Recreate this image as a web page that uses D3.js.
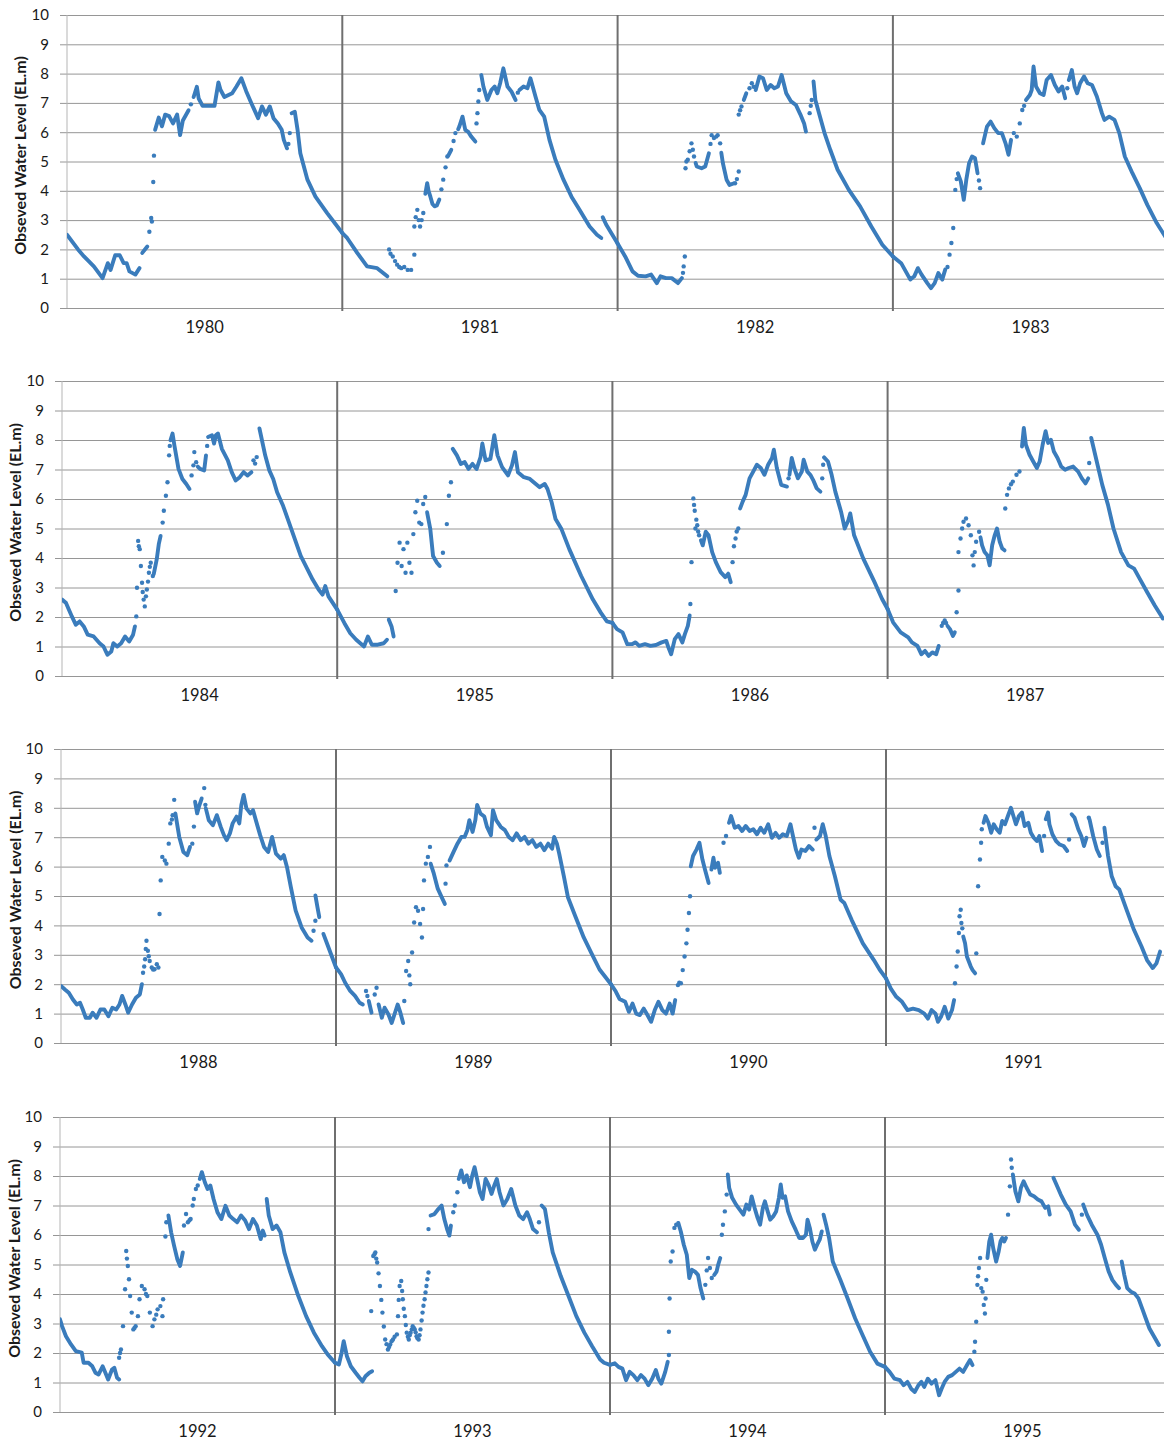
<!DOCTYPE html>
<html><head><meta charset="utf-8">
<script src="https://cdn.jsdelivr.net/npm/d3@7"></script>
<style>body{margin:0;background:#fff}svg{display:block}</style>
</head><body>
<svg id="c" width="1164" height="1443"></svg>
<script>
// ---------- DATA (month-of-year, water level EL.m); "L" = continuous run, "D" = isolated dots ----------
const yTickValues = [0,1,2,3,4,5,6,7,8,9,10];
const axisTitle = "Obseved Water Level (EL.m)";
const panelYears = [[1980,1981,1982,1983],[1984,1985,1986,1987],[1988,1989,1990,1991],[1992,1993,1994,1995]];

const wl1980 = [
 ["L",0,2.5,.48,2.0,.74,1.76,1.17,1.42,1.55,1.02,1.78,1.53,1.9,1.3,2.1,1.8,2.3,1.8,2.47,1.53,2.6,1.53,2.72,1.25,2.98,1.14,3.16,1.36],
 ["L",3.28,1.88,3.5,2.1],
 ["D",3.59,2.6,3.67,3.07,3.7,2.95,3.76,4.3,3.79,5.2],
 ["L",3.84,6.08,4.0,6.5,4.14,6.2,4.28,6.6,4.45,6.55,4.62,6.3,4.8,6.6,4.93,5.9,5.05,6.4,5.3,6.75],
 ["D",5.4,6.95],
 ["L",5.52,7.2,5.66,7.55,5.74,7.15,5.91,6.9,6.17,6.9,6.43,6.9,6.6,7.7,6.69,7.45,6.86,7.2,7.2,7.33,7.38,7.55,7.6,7.84,7.81,7.4,8.07,6.93,8.33,6.48,8.5,6.88,8.67,6.6,8.84,6.88,9.0,6.48,9.19,6.3,9.36,6.08,9.45,5.74,9.59,5.45],
 ["D",9.65,5.6,9.71,5.97],
 ["L",9.79,6.65,9.93,6.7,10.05,6.08,10.17,5.28,10.48,4.38,10.83,3.8,11.34,3.24,12,2.56]
];
const wl1981 = [
 ["L",0,2.56,.21,2.39,.65,1.88,1.08,1.42,1.52,1.36,1.96,1.08],
 ["D",2.04,2.0,2.1,1.85,2.2,1.76,2.3,1.6,2.39,1.48,2.48,1.4,2.57,1.36,2.7,1.4,2.85,1.3,3.0,1.3,3.14,1.82],
 ["D",3.14,2.78,3.2,3.1,3.27,3.35,3.33,3.0,3.39,2.78,3.46,3.0,3.53,3.24],
 ["L",3.62,3.9,3.7,4.26,3.76,4.0,3.84,3.8,3.93,3.55,4.02,3.47,4.12,3.5,4.23,3.7],
 ["D",4.32,4.05,4.4,4.38,4.5,4.8,4.58,5.17],
 ["L",4.62,5.2,4.75,5.4],
 ["D",4.85,5.7,4.93,5.97],
 ["L",5.05,6.1,5.1,6.19,5.24,6.53,5.36,6.08,5.5,6.0,5.62,5.85,5.8,5.68],
 ["D",5.85,6.3,5.89,6.65,5.93,7.05,5.97,7.44],
 ["L",6.06,7.95,6.15,7.56,6.32,7.1,6.5,7.44,6.64,7.56,6.76,7.33,6.88,7.67,7.02,8.18,7.2,7.56,7.37,7.39,7.55,7.1],
 ["D",7.65,7.35],
 ["L",7.72,7.44,7.9,7.56,8.07,7.5,8.2,7.84,8.42,7.22,8.59,6.76,8.8,6.53,9.03,5.74,9.29,5.06,9.64,4.38,9.99,3.8,10.34,3.35,10.78,2.78,11.1,2.5,11.29,2.39],
 ["L",11.35,3.1,11.5,2.85,12,2.2]
];
const wl1982 = [
 ["L",0,2.2,.33,1.76,.65,1.25,.89,1.1,1.22,1.08,1.46,1.14,1.71,.85,1.87,1.08,2.11,1.02,2.36,1.02,2.63,.85,2.8,1.02],
 ["D",2.85,1.2,2.88,1.42,2.93,1.76],
 ["D",2.96,4.77,3.0,5.0,3.06,5.06,3.14,5.35,3.22,5.62,3.28,5.4,3.33,5.17],
 ["L",3.4,4.95,3.45,4.83,3.66,4.77,3.82,4.83,3.98,5.28],
 ["D",4.05,5.6,4.1,5.9,4.2,5.8,4.3,5.85,4.36,5.9,4.47,5.62],
 ["L",4.52,5.3,4.59,4.94,4.75,4.38,4.88,4.2,5.05,4.25],
 ["D",5.12,4.26,5.2,4.4,5.28,4.66],
 ["D",5.28,6.6,5.34,6.75,5.4,6.88],
 ["L",5.5,7.1,5.61,7.33],
 ["D",5.75,7.5,5.85,7.67,5.93,7.55],
 ["L",6.02,7.44,6.18,7.9,6.34,7.84,6.5,7.44,6.67,7.61,6.83,7.5,6.99,7.56,7.15,7.95,7.35,7.33,7.56,7.05,7.77,6.93,7.97,6.6,8.13,6.3,8.21,6.02],
 ["D",8.37,6.65,8.42,6.9,8.46,7.1],
 ["L",8.54,7.73,8.62,7.1,8.78,6.65,9.02,5.97,9.27,5.4,9.59,4.72,10.08,4.03,10.57,3.47,11.06,2.78,11.54,2.16,12,1.76]
];
const wl1983 = [
 ["L",0,1.76,.36,1.53,.76,.97,.93,1.08,1.09,1.36,1.25,1.14,1.5,.85,1.66,.68,1.82,.85,1.98,1.19,2.15,.97,2.28,1.31],
 ["D",2.38,1.4,2.47,1.82,2.55,2.22,2.63,2.73],
 ["D",2.72,4.03,2.78,4.4],
 ["L",2.83,4.6,2.96,4.32,3.09,3.69,3.2,4.38,3.32,4.94,3.45,5.17,3.58,5.11,3.69,4.6],
 ["D",3.75,4.35,3.8,4.09],
 ["L",3.93,5.62,4.1,6.19,4.26,6.36,4.42,6.14,4.59,5.97,4.75,5.97,4.91,5.62,5.04,5.23,5.15,5.74],
 ["D",5.27,5.97,5.4,5.85,5.53,6.3,5.64,6.76,5.72,6.9],
 ["L",5.8,7.1,5.97,7.27,6.05,7.44,6.13,8.24,6.24,7.56,6.41,7.33,6.57,7.27,6.7,7.78,6.89,7.95,7.06,7.61,7.22,7.39,7.38,7.56,7.51,7.16],
 ["D",7.6,7.5],
 ["L",7.67,7.78,7.8,8.12,7.92,7.56,8.03,7.33,8.16,7.67,8.33,7.9,8.49,7.67,8.68,7.61,8.89,7.22,9.11,6.65,9.22,6.42,9.43,6.53,9.66,6.42,9.87,5.97,10.11,5.17,10.44,4.6,10.76,4.09,11.09,3.52,11.5,2.9,11.87,2.44,12,2.3]
];
const wl1984 = [
 ["L",0,2.59,.17,2.48,.43,2.02,.6,1.74,.77,1.85,.95,1.68,1.12,1.4,1.38,1.34,1.64,1.11,1.81,1.0,1.98,.72,2.15,.83,2.24,1.11,2.41,1.0,2.58,1.11,2.75,1.34,2.93,1.17,3.1,1.4,3.18,1.68],
 ["D",3.24,2.02,3.27,2.99,3.32,4.58,3.35,4.4,3.39,4.3,3.44,3.73,3.49,3.16,3.52,2.85,3.56,2.59,3.61,2.36,3.66,2.7,3.7,2.93,3.75,3.2,3.79,3.5,3.83,3.7,3.87,3.84,3.96,3.39],
 ["L",4.0,3.45,4.04,3.61,4.13,3.95,4.22,4.47,4.3,4.75],
 ["D",4.39,5.2,4.44,5.6,4.53,6.11,4.6,6.57,4.67,7.48,4.7,7.8],
 ["L",4.73,7.99,4.82,8.22,4.9,7.82,5.08,7.02,5.25,6.68,5.42,6.51,5.56,6.34],
 ["D",5.65,6.8,5.73,7.14,5.77,7.59,5.85,7.25],
 ["L",5.92,7.1,6.02,7.02,6.2,6.97,6.28,7.48],
 ["D",6.33,7.8],
 ["L",6.37,8.1,6.54,8.16,6.63,7.88,6.71,8.16,6.8,8.22,6.97,7.7,7.23,7.31,7.4,6.91,7.57,6.63,7.75,6.74,7.92,6.91,8.09,6.8,8.26,6.91],
 ["D",8.35,7.31,8.42,7.2,8.49,7.42],
 ["L",8.61,8.39,8.86,7.48,9.04,6.97,9.21,6.68,9.38,6.23,9.64,5.77,9.9,5.2,10.41,4.07,10.93,3.27,11.19,2.93,11.36,2.76,11.48,3.05,11.62,2.7,12,2.25]
];
const wl1985 = [
 ["L",0,2.25,.31,1.8,.57,1.45,.83,1.23,1.17,1.0,1.34,1.34,1.51,1.06,1.77,1.06,2.03,1.11,2.17,1.23],
 ["L",2.25,1.91,2.37,1.68,2.46,1.34],
 ["D",2.55,2.88,2.63,3.84,2.72,4.52,2.81,3.73,2.89,4.3,2.98,3.5,3.06,4.52,3.15,3.84,3.24,3.5,3.32,4.81,3.41,5.55,3.49,5.94,3.58,5.2,3.67,5.15,3.75,5.83,3.84,6.07],
 ["L",3.92,5.55,4.06,4.98,4.18,4.07,4.35,3.84,4.47,3.73],
 ["D",4.61,4.18,4.78,5.15,4.87,6.11,4.96,6.57],
 ["L",5.04,7.7,5.22,7.48,5.39,7.19,5.56,7.25,5.73,7.02,5.9,7.19,6.08,7.02,6.25,7.42,6.33,7.88,6.47,7.31,6.68,7.36,6.85,8.16,6.99,7.48,7.19,7.08,7.45,6.8,7.62,7.14,7.75,7.59,7.88,6.91,8.14,6.74,8.4,6.68,8.66,6.51,8.83,6.4,9.05,6.51,9.17,6.34,9.35,5.89,9.52,5.32,9.78,4.98,10.12,4.3,10.64,3.39,11.15,2.59,11.5,2.14,11.76,1.85,12,1.8]
];
const wl1986 = [
 ["L",0,1.8,.2,1.59,.44,1.48,.65,1.08,.85,1.08,1.01,1.14,1.17,1.02,1.42,1.08,1.66,1.02,1.9,1.05,2.15,1.14,2.35,1.19,2.44,.97,2.56,.74,2.72,1.25,2.88,1.42,3.05,1.14,3.16,1.42,3.29,1.7,3.37,2.05],
 ["D",3.4,2.44,3.45,3.86],
 ["D",3.53,6.02,3.56,5.8,3.59,5.6,3.62,5.0,3.66,5.3,3.7,5.11,3.74,4.9,3.78,4.77],
 ["L",3.86,4.6,3.94,4.43,4.07,4.89,4.19,4.77,4.35,4.2,4.51,3.86,4.72,3.52,4.92,3.35,5.05,3.47,5.16,3.18],
 ["D",5.24,3.86,5.3,4.4,5.37,4.66,5.42,4.9,5.49,5.0],
 ["L",5.57,5.68,5.68,5.91,5.81,6.14,5.98,6.7,6.14,6.93,6.3,7.16,6.47,7.05,6.63,6.82,6.79,7.16,6.96,7.39,7.04,7.67,7.17,7.05,7.36,6.48,7.61,6.42],
 ["D",7.68,6.7],
 ["L",7.72,6.82,7.82,7.39,7.93,7.05,8.09,6.7,8.26,6.93,8.34,7.33,8.5,6.93,8.63,6.82,8.75,6.65,8.91,6.36,9.07,6.25],
 ["D",9.15,6.7,9.19,7.16],
 ["L",9.23,7.41,9.4,7.27,9.56,6.82,9.72,6.25,9.97,5.57,10.13,5.0,10.29,5.28,10.37,5.51,10.54,4.77,10.94,3.98,11.43,3.18,11.76,2.61,12,2.27]
];
const wl1987 = [
 ["L",0,2.27,.24,1.82,.57,1.48,.9,1.31,1.06,1.14,1.3,1.02,1.47,.74,1.63,.85,1.79,.68,1.95,.8,2.12,.74,2.23,1.02],
 ["D",2.36,1.7,2.42,1.8,2.49,1.88,2.55,1.8],
 ["L",2.61,1.7,2.72,1.59,2.85,1.36,2.93,1.48],
 ["D",3.01,2.16,3.09,2.9],
 ["D",3.09,4.2,3.18,4.66,3.25,5.0,3.31,5.23,3.42,5.34,3.53,5.11,3.63,4.77,3.7,4.09,3.75,3.75,3.8,4.2,3.86,4.55,3.99,4.89],
 ["L",4.05,4.7,4.12,4.43,4.23,4.2,4.35,4.09,4.45,3.75,4.56,4.43,4.67,4.77,4.77,5.0,4.89,4.55,5.0,4.32,5.1,4.26],
 ["D",5.13,5.68,5.21,6.14,5.29,6.36,5.38,6.5,5.46,6.59,5.62,6.82,5.75,6.93],
 ["L",5.86,7.78,5.94,8.41,6.03,7.84,6.19,7.5,6.35,7.27,6.51,7.05,6.63,7.27,6.76,7.84,6.89,8.3,7.0,7.9,7.12,8.01,7.25,7.61,7.41,7.39,7.57,7.1,7.74,6.99,7.9,7.05,8.09,7.1,8.31,6.93,8.47,6.7,8.63,6.53,8.75,6.7],
 ["D",8.79,7.22],
 ["L",8.88,8.07,9.12,7.27,9.36,6.48,9.61,5.8,9.85,5.0,10.18,4.2,10.5,3.75,10.75,3.64,10.99,3.3,11.32,2.84,11.65,2.39,11.97,1.99,12,1.95]
];
const wl1988 = [
 ["L",0,1.94,.17,1.82,.34,1.71,.52,1.48,.69,1.31,.83,1.37,.95,1.14,1.08,.86,1.26,.86,1.38,1.03,1.55,.86,1.72,1.14,1.89,1.14,2.07,.91,2.24,1.2,2.41,1.14,2.55,1.31,2.67,1.6,2.81,1.31,2.93,1.03,3.1,1.31,3.27,1.54,3.44,1.65,3.53,2.0],
 ["D",3.58,2.39,3.63,2.6,3.67,2.85,3.7,3.2,3.73,3.48,3.79,3.14,3.83,2.95,3.87,2.79,3.96,2.57,4.02,2.5,4.08,2.51,4.18,2.68,4.25,2.57],
 ["D",4.3,4.39,4.35,5.53,4.42,6.33,4.53,6.21,4.6,6.1,4.7,6.78,4.77,7.47,4.84,7.6,4.87,7.75,4.94,8.27],
 ["L",4.99,7.81,5.16,7.01,5.34,6.5,5.51,6.39,5.63,6.67],
 ["D",5.73,6.78,5.8,7.36],
 ["L",5.85,8.21,5.94,7.81,6.02,8.04,6.14,8.32],
 ["D",6.25,8.67,6.3,8.1],
 ["L",6.32,7.98,6.45,7.58,6.63,7.41,6.8,7.75,6.97,7.35,7.11,7.07,7.23,6.9,7.37,7.13,7.49,7.47,7.66,7.7,7.78,7.47,7.87,8.1,7.97,8.44,8.09,7.98,8.26,7.81,8.38,7.92,8.52,7.53,8.69,7.07,8.86,6.67,9.04,6.5,9.21,7.01,9.38,6.44,9.59,6.27,9.72,6.39,9.86,5.99,10.03,5.3,10.24,4.5,10.5,3.93,10.76,3.59,10.93,3.48],
 ["D",11.02,3.82,11.1,4.16],
 ["L",11.1,5.02,11.19,4.62,11.27,4.28],
 ["L",11.45,3.71,11.62,3.36,12,2.57]
];
const wl1989 = [
 ["L",0,2.57,.22,2.34,.4,2.05,.62,1.77,.83,1.6,1.03,1.37,1.17,1.31],
 ["D",1.31,1.77,1.37,1.6],
 ["L",1.43,1.43,1.55,1.03],
 ["D",1.69,1.65,1.77,1.88],
 ["L",1.86,1.31,2.0,.86,2.12,1.2,2.29,.97,2.43,.68,2.55,.97,2.69,1.31,2.81,1.03,2.93,.68],
 ["D",2.98,1.43],
 ["D",3.06,2.45,3.15,2.79,3.2,2.3,3.24,2.0,3.32,3.08,3.41,4.1,3.49,4.62,3.58,4.5,3.67,4.05,3.75,3.59,3.8,4.56,3.84,5.53,3.92,6.1,4.01,6.33,4.1,6.67],
 ["L",4.13,6.1,4.27,5.76,4.44,5.25,4.61,4.96,4.75,4.73],
 ["D",4.78,5.42,4.82,6.04],
 ["L",4.96,6.21,5.13,6.5,5.3,6.78,5.47,7.01,5.61,7.01,5.73,7.24,5.82,7.58,5.96,7.18,6.08,7.58,6.16,8.1,6.3,7.81,6.47,7.7,6.59,7.35,6.76,7.07,6.85,7.92,6.99,7.58,7.19,7.35,7.37,7.24,7.54,7.01,7.71,6.9,7.88,7.13,8.06,6.9,8.23,7.01,8.4,6.78,8.57,6.9,8.74,6.67,8.92,6.78,9.09,6.56,9.26,6.78,9.43,6.61,9.52,7.01,9.64,6.78,9.74,6.44,9.95,5.64,10.12,4.96,10.46,4.28,10.81,3.59,11.15,3.05,11.5,2.5,12,2.0]
];
const wl1990 = [
 ["L",0,2.0,.21,1.75,.37,1.5,.62,1.4,.78,1.06,.94,1.34,1.1,1.0,1.26,.95,1.43,1.17,1.59,.95,1.75,.72,1.91,1.12,2.07,1.4,2.24,1.12,2.4,1.0,2.56,1.34,2.69,1.0,2.8,1.46],
 ["D",2.92,1.97,2.98,2.05,3.05,2.03],
 ["D",3.13,2.48,3.21,2.94,3.29,3.39,3.34,3.85,3.4,4.42,3.45,4.99],
 ["L",3.48,6.01,3.58,6.36,3.73,6.58,3.86,6.81,3.99,6.24,4.1,5.9,4.26,5.44],
 ["L",4.38,5.9,4.47,6.3,4.54,5.96,4.67,6.13,4.75,5.79],
 ["D",4.91,6.81,5.02,7.04],
 ["L",5.15,7.49,5.24,7.72,5.4,7.32,5.56,7.38,5.72,7.21,5.88,7.38,6.05,7.21,6.21,7.27,6.37,7.1,6.53,7.32,6.69,7.15,6.86,7.44,7.02,6.98,7.18,7.15,7.34,6.98,7.5,7.1,7.67,7.04,7.83,7.44,7.94,7.04,8.07,6.58,8.2,6.3,8.31,6.58,8.48,6.53,8.64,6.7,8.8,6.58],
 ["D",8.88,7.32],
 ["L",8.96,6.92,9.12,7.04,9.24,7.44,9.37,7.04,9.53,6.36,9.77,5.67,10.02,4.87,10.18,4.76,10.5,4.19,10.99,3.39,11.47,2.82,11.72,2.5,12,2.2]
];
const wl1991 = [
 ["L",0,2.2,.21,1.85,.45,1.57,.7,1.4,.94,1.12,1.18,1.17,1.43,1.12,1.67,1.0,1.83,.83,1.99,1.12,2.16,1.0,2.27,.72,2.4,.89,2.56,1.23,2.72,.83,2.88,1.12,2.97,1.46],
 ["D",3.01,2.03,3.08,2.6,3.13,3.11,3.18,3.74,3.21,4.31,3.26,4.53,3.29,4.08,3.33,3.9],
 ["L",3.37,3.62,3.45,3.39,3.53,2.94,3.7,2.6,3.78,2.48,3.89,2.37],
 ["D",3.94,3.05,4.02,5.33,4.1,6.24,4.15,6.81,4.18,7.27],
 ["L",4.26,7.49,4.34,7.72,4.47,7.49,4.59,7.15,4.7,7.44,4.83,7.27,4.96,7.15,5.07,7.55,5.19,7.44,5.32,7.72,5.45,8.0,5.56,7.72,5.67,7.44,5.8,7.72,5.93,7.84,6.05,7.38,6.21,7.49,6.32,7.15,6.45,6.98,6.58,6.87,6.69,7.04,6.81,6.53],
 ["D",6.9,7.04],
 ["L",6.97,7.61,7.07,7.84,7.13,7.44,7.26,7.1,7.42,6.87,7.58,6.75,7.75,6.7,7.91,6.53],
 ["D",7.99,6.92],
 ["L",8.1,7.78,8.23,7.66,8.39,7.27,8.52,7.04,8.64,6.7,8.75,6.98],
 ["D",8.85,7.66],
 ["L",8.88,7.61,9.04,7.04,9.2,6.58,9.33,6.36],
 ["D",9.45,6.81],
 ["L",9.53,7.32,9.69,6.36,9.85,5.67,10.02,5.33,10.18,5.22,10.5,4.53,10.82,3.85,11.15,3.28,11.39,2.82,11.64,2.55,11.8,2.71,11.96,3.11]
];
const wl1992 = [
 ["L",0,3.14,.09,2.91,.26,2.57,.48,2.29,.69,2.06,.95,2.01,1.03,1.67,1.24,1.67,1.41,1.55,1.55,1.33,1.68,1.27,1.86,1.55,1.98,1.33,2.1,1.1,2.27,1.44,2.37,1.5,2.49,1.16,2.58,1.1],
 ["D",2.58,1.84,2.62,2.0,2.66,2.12,2.75,2.91,2.84,4.16,2.89,5.46,2.92,5.2,2.96,4.95,3.01,4.5,3.06,3.93,3.13,3.37,3.2,2.8,3.25,2.85,3.3,2.91,3.4,3.25,3.47,3.82,3.57,4.27,3.69,4.16,3.75,4.0,3.81,3.93,3.92,3.37,4.04,2.91,4.12,3.14,4.2,3.3,4.26,3.48,4.38,3.59,4.47,3.25,4.5,3.82],
 ["D",4.6,5.95,4.64,6.43],
 ["L",4.73,6.66,4.85,6.09,4.98,5.63,5.12,5.18,5.24,4.95,5.36,5.41],
 ["D",5.41,6.32,5.5,6.71,5.58,6.43,5.65,6.5,5.7,6.54,5.79,7.0,5.84,7.22,5.93,7.56,6.01,7.68],
 ["L",6.1,7.9,6.19,8.13,6.32,7.79,6.44,7.56,6.56,7.68,6.7,7.22,6.87,6.77,7.04,6.54,7.22,6.99,7.39,6.66,7.56,6.54,7.73,6.43,7.9,6.66,8.08,6.49,8.25,6.2,8.42,6.54,8.59,6.32,8.76,5.86,8.85,6.15,8.93,5.98],
 ["L",9.02,7.22,9.11,6.66,9.28,6.2,9.45,6.32,9.62,6.09,9.79,5.41,10.05,4.73,10.4,3.93,10.74,3.25,11.08,2.69,11.43,2.23,11.68,1.95,12,1.67]
];
const wl1993 = [
 ["L",0,1.67,.17,1.61,.29,2.01,.38,2.4,.52,1.89,.69,1.55,.9,1.33,1.07,1.16,1.2,1.04,1.33,1.21,1.5,1.33,1.62,1.38],
 ["D",1.58,3.42,1.67,5.29,1.72,5.35,1.76,5.41,1.8,5.2,1.84,5.07,1.9,4.7,1.96,4.27,2.02,3.8,2.07,3.37,2.13,2.9,2.19,2.46,2.25,2.3,2.31,2.12,2.36,2.2,2.41,2.29,2.47,2.4,2.53,2.46,2.6,2.55,2.7,2.63,2.75,3.25,2.78,3.8,2.82,4.27,2.89,4.44,2.93,4.1,2.96,3.82,3.0,3.5,3.05,3.25,3.09,2.95,3.13,2.69,3.18,2.55,3.22,2.46,3.26,2.6,3.3,2.69,3.35,2.8,3.39,2.91,3.44,2.85,3.48,2.8,3.52,2.7,3.56,2.57,3.6,2.5,3.65,2.46,3.69,2.6,3.73,2.8,3.78,3.1,3.82,3.37,3.86,3.6,3.91,3.82,3.95,4.05,3.99,4.27,4.03,4.5,4.08,4.73],
 ["D",4.08,6.2],
 ["L",4.17,6.66,4.34,6.71,4.51,6.88,4.65,7.0,4.77,6.54,4.89,6.2,4.99,5.98,5.06,6.32],
 ["D",5.16,6.77,5.23,7.0,5.34,7.45],
 ["L",5.4,7.9,5.51,8.19,5.63,7.79,5.75,8.02,5.89,7.62,5.99,8.02,6.09,8.3,6.2,7.9,6.32,7.45,6.44,7.22,6.57,7.9,6.71,7.68,6.83,7.39,6.95,7.68,7.06,7.9,7.18,7.45,7.35,7.0,7.52,7.22,7.69,7.56,7.87,7.0,8.04,6.66,8.21,6.54,8.38,6.77,8.5,6.54,8.64,6.2,8.81,6.09],
 ["D",8.9,6.43],
 ["L",9.02,7.0,9.16,6.88,9.33,6.09,9.5,5.41,9.85,4.61,10.19,3.93,10.53,3.25,10.88,2.69,11.22,2.23,11.57,1.78,11.74,1.67,12,1.6]
];
const wl1994 = [
 ["L",0,1.6,.21,1.65,.37,1.53,.54,1.47,.7,1.08,.86,1.36,1.02,1.25,1.19,1.08,1.35,1.25,1.51,1.13,1.67,.91,1.84,1.13,2.0,1.42,2.11,1.13,2.24,.96,2.41,1.36,2.52,1.7],
 ["D",2.57,1.93,2.57,2.72,2.6,3.85,2.65,5.1,2.73,5.44,2.81,6.24,2.89,6.35],
 ["L",2.98,6.41,3.09,6.12,3.22,5.67,3.35,5.33,3.46,4.54,3.58,4.82,3.71,4.76,3.84,4.65,3.95,4.2,4.07,3.85],
 ["D",4.16,4.31,4.22,4.8,4.28,5.22,4.36,4.88,4.44,4.54],
 ["L",4.55,4.65,4.65,4.76,4.72,4.99,4.81,5.22],
 ["D",4.88,6.01,4.93,6.35,5.01,6.8,5.09,7.37],
 ["L",5.14,8.05,5.2,7.6,5.33,7.26,5.5,7.03,5.66,6.86,5.82,6.69,5.95,7.03,6.07,6.86,6.18,7.31,6.31,6.92,6.44,6.58,6.55,6.35,6.67,6.92,6.76,7.14,6.88,6.8,6.99,6.52,7.12,6.63,7.25,6.8,7.37,7.26,7.45,7.71,7.53,7.26,7.64,7.31,7.77,6.8,7.93,6.46,8.1,6.18,8.26,5.9,8.42,5.9,8.55,6.01,8.62,6.52,8.72,6.24,8.83,5.78,8.94,5.5,9.04,5.67,9.15,5.84,9.24,6.12],
 ["L",9.32,6.69,9.43,6.35,9.56,5.9,9.72,5.1,10.05,4.48,10.37,3.85,10.7,3.17,11.02,2.61,11.35,2.04,11.67,1.64,12,1.53]
];
const wl1995 = [
 ["L",0,1.53,.2,1.36,.41,1.13,.65,1.08,.81,.91,.98,1.02,1.14,.79,1.3,.68,1.46,.91,1.59,1.02,1.71,.85,1.87,1.13,2.03,.96,2.2,1.08,2.36,.57,2.47,.79,2.6,1.02,2.76,1.19,2.93,1.25,3.09,1.36,3.25,1.47,3.41,1.36,3.58,1.59,3.71,1.76,3.82,1.59],
 ["D",3.9,2.04,3.93,2.38,3.98,3.06,4.03,4.31,4.06,4.6,4.1,4.88,4.15,5.22,4.2,4.2,4.26,4.08,4.31,3.63,4.36,3.34,4.39,3.85,4.42,4.48],
 ["L",4.47,5.22,4.55,5.78,4.63,6.01,4.72,5.56,4.85,5.1,4.96,5.44,5.04,5.78,5.12,5.9,5.2,5.78,5.28,5.9],
 ["D",5.37,6.69,5.45,7.65,5.5,8.56,5.53,8.28],
 ["L",5.58,8.05,5.69,7.48,5.82,7.14,5.93,7.6,6.05,7.82,6.18,7.6,6.34,7.37,6.5,7.31,6.67,7.2,6.83,7.14,6.99,6.92,7.12,6.97,7.19,6.69],
 ["L",7.35,7.94,7.48,7.71,7.67,7.37,7.89,7.03,8.1,6.8,8.29,6.35,8.46,6.18],
 ["D",8.59,6.69],
 ["L",8.65,7.03,8.81,6.69,9.02,6.35,9.27,6.01,9.43,5.67,9.59,5.22,9.76,4.76,9.92,4.48,10.08,4.31,10.21,4.2],
 ["L",10.33,5.1,10.44,4.65,10.57,4.2,10.73,4.08,10.89,4.02,11.06,3.85,11.22,3.51,11.38,3.17,11.54,2.83,11.79,2.49,11.95,2.27]
];

const levels = {1980:wl1980,1981:wl1981,1982:wl1982,1983:wl1983,1984:wl1984,1985:wl1985,1986:wl1986,1987:wl1987,
  1988:wl1988,1989:wl1989,1990:wl1990,1991:wl1991,1992:wl1992,1993:wl1993,1994:wl1994,1995:wl1995};

// ---------- LAYOUT ----------
const W = 1164;
const panels = [
  {left:67, top:15,   bottom:308,  yw:275.3, titleX:22},
  {left:62, top:381,  bottom:676,  yw:275.2, titleX:17},
  {left:61, top:749,  bottom:1043, yw:275.0, titleX:17},
  {left:60, top:1117, bottom:1412, yw:275.0, titleX:16}
];
const BLUE = "#3a7cbc";
const FONT = "Lato, 'Open Sans', sans-serif";

const svg = d3.select("#c");
const defs = svg.append("defs");

panels.forEach((g, i) => {
  const yrs = panelYears[i];
  const x = d3.scaleLinear().domain([yrs[0], yrs[0] + 4]).range([g.left, g.left + 4 * g.yw]);
  const y = d3.scaleLinear().domain([0, 10]).range([g.bottom, g.top]);
  const pg = svg.append("g");

  // y axis with full-width gridlines
  const ax = pg.append("g").attr("transform", `translate(${g.left},0)`)
    .call(d3.axisLeft(y).tickValues(yTickValues).tickSizeOuter(0).tickSizeInner(-(W - g.left)).tickPadding(18));
  ax.select(".domain").remove();
  ax.selectAll(".tick line").attr("x1", -7).attr("stroke", "#969696").attr("stroke-width", 1);
  ax.selectAll(".tick text").attr("x", -18).attr("fill", "#1a1a1a")
    .style("font-family", FONT).style("font-size", "15px");

  // left axis line
  pg.append("line").attr("x1", g.left).attr("x2", g.left).attr("y1", y(10)).attr("y2", y(0))
    .attr("stroke", "#b5b5b5").attr("stroke-width", 1);

  // year separators
  [1, 2, 3].forEach(k => {
    pg.append("line").attr("x1", x(yrs[0] + k)).attr("x2", x(yrs[0] + k))
      .attr("y1", y(10)).attr("y2", y(0) + 3).attr("stroke", "#6f6f6f").attr("stroke-width", 2);
  });

  // year labels
  pg.selectAll("text.yr").data(yrs).join("text").attr("class", "yr")
    .attr("x", d => x(d + 0.5)).attr("y", g.bottom + 25).attr("text-anchor", "middle")
    .attr("fill", "#1a1a1a").style("font-family", FONT).style("font-size", "16.5px").text(d => d);

  // y title
  pg.append("text").attr("transform", `translate(${g.titleX},${(g.top + g.bottom) / 2 - 6}) rotate(-90)`)
    .attr("text-anchor", "middle").attr("dominant-baseline", "middle")
    .attr("fill", "#1a1a1a").style("font-family", FONT).style("font-size", "16px").style("font-weight", "bold")
    .text(axisTitle);

  // data
  const cid = "clip" + i;
  defs.append("clipPath").attr("id", cid).append("rect")
    .attr("x", g.left).attr("y", g.top - 10).attr("width", W - g.left).attr("height", g.bottom - g.top + 20);
  const dg = pg.append("g").attr("clip-path", `url(#${cid})`);

  yrs.forEach(yr => {
    const segs = levels[yr];
    const line = d3.line().x(p => x(yr + p[0] / 12)).y(p => y(p[1]));
    segs.forEach(seg => {
      const pts = [];
      for (let k = 1; k < seg.length; k += 2) pts.push([seg[k], seg[k + 1]]);
      if (seg[0] === "L") {
        dg.append("path").datum(pts).attr("d", line).attr("fill", "none")
          .attr("stroke", BLUE).attr("stroke-width", 3.9)
          .attr("stroke-linecap", "round").attr("stroke-linejoin", "round");
      } else {
        dg.selectAll(null).data(pts).join("circle")
          .attr("cx", p => x(yr + p[0] / 12)).attr("cy", p => y(p[1])).attr("r", 2.2).attr("fill", BLUE);
      }
    });
  });
});
</script>
</body></html>
